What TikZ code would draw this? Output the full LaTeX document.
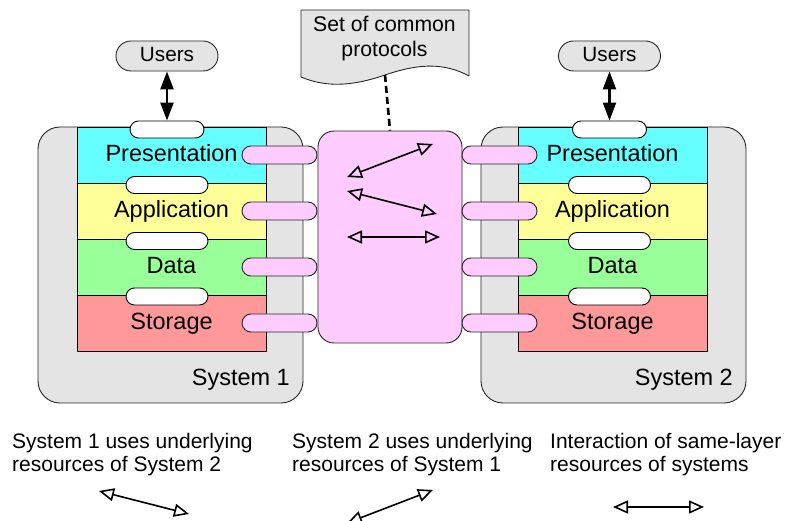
\documentclass[tikz,border=0pt]{standalone}
\usepackage{fontspec}
\setmainfont{Liberation Sans}
\usetikzlibrary{arrows.meta,shapes.misc}

\definecolor{sysgray}{HTML}{E4E4E4}
\definecolor{prescol}{HTML}{66FFFF}
\definecolor{appcol}{HTML}{FFFF99}
\definecolor{datacol}{HTML}{99FF99}
\definecolor{storcol}{HTML}{FF9999}
\definecolor{linkpink}{HTML}{FFCCFF}

\begin{document}
\begin{tikzpicture}[x=1pt,y=-1pt,line join=round,
  system/.style={draw=black!85,fill=sysgray,line width=0.9pt,rounded corners=22pt},
  layer/.style={draw=black,line width=0.9pt,minimum width=189pt,minimum height=56pt,
    inner sep=0pt,font=\fontsize{23.5}{28}\selectfont,text height=19pt,text depth=5pt},
  iface/.style={rounded rectangle,draw=black,fill=white,line width=0.9pt,
    minimum width=82pt,minimum height=17pt,inner sep=0pt},
  link/.style={rounded rectangle,draw=black!85,fill=linkpink,line width=0.9pt,
    minimum width=75pt,minimum height=18pt,inner sep=0pt},
  users/.style={rounded rectangle,draw=black!85,fill=sysgray,line width=0.9pt,
    minimum width=102pt,minimum height=30pt,inner sep=0pt,
    font=\fontsize{20.7}{24}\selectfont,text height=16pt,text depth=4pt},
  syslabel/.style={anchor=base east,inner sep=0pt,font=\fontsize{23.5}{28}\selectfont},
  doctext/.style={anchor=base,inner sep=0pt,font=\fontsize{21.2}{26}\selectfont},
  legend/.style={anchor=base west,inner sep=0pt,font=\fontsize{21}{22}\selectfont},
  userarrow/.style={line width=2.3pt,{Triangle[length=18pt,width=13pt]}-{Triangle[length=18pt,width=13pt]}},
  relarrow/.style={line width=1.6pt,{Triangle[open,length=15pt,width=13pt]}-{Triangle[open,length=15pt,width=13pt]}},
]
\useasboundingbox (0,0) rectangle (785,521);
\clip (0,0) rectangle (785,521);

% ---- System 1 ----
\draw[system] (38,127) rectangle (303,403);
\node[layer,fill=prescol] (p1) at (171.5,155) {Presentation};
\node[layer,fill=appcol]  (a1) at (171.5,211) {Application};
\node[layer,fill=datacol] (d1) at (171.5,267) {Data};
\node[layer,fill=storcol] (s1) at (171.5,323) {Storage};
\node[iface,minimum width=74pt] (ip1) at (167,129.5) {};
\node[iface] (ia1) at (167,185) {};
\node[iface] (id1) at (167,241) {};
\node[iface] (is1) at (167,296.5) {};
\node[syslabel] (sys1) at (290,385) {System 1};

% ---- System 2 ----
\draw[system] (481,127) rectangle (746,403);
\node[layer,fill=prescol] (p2) at (612.5,155) {Presentation};
\node[layer,fill=appcol]  (a2) at (612.5,211) {Application};
\node[layer,fill=datacol] (d2) at (612.5,267) {Data};
\node[layer,fill=storcol] (s2) at (612.5,323) {Storage};
\node[iface,minimum width=74pt] (ip2) at (609.5,129.5) {};
\node[iface] (ia2) at (609.5,185) {};
\node[iface] (id2) at (609.5,241) {};
\node[iface] (is2) at (609.5,296.5) {};
\node[syslabel] (sys2) at (733,385) {System 2};

% ---- common protocol hub and its layer links ----
\node[draw=black!85,fill=linkpink,line width=0.9pt,rounded corners=16pt,
  minimum width=144pt,minimum height=212pt,inner sep=0pt] (hub) at (390,237) {};
\foreach \y/\n in {155/p,211/a,267/d,323/s}{
  \node[link] (l1\n) at (279.5,\y) {};
  \node[link] (l2\n) at (499.5,\y) {};
}

% ---- users ----
\node[users] (u1) at (167,56) {Users};
\node[users] (u2) at (609.5,56) {Users};
\draw[userarrow] (u1.south) -- (ip1.north);
\draw[userarrow] (u2.south) -- (ip2.north);

% ---- protocol document ----
\draw[draw=black!85,fill=sysgray,line width=0.9pt]
  (301,10) -- (469,10) -- (469,76)
  .. controls (445,63) and (420,63) .. (385,75)
  .. controls (350,87) and (325,87) .. (301,77) -- cycle;
\coordinate (docbot) at (385,75);
\node[doctext] (doc1) at (384.5,32) {Set of common};
\node[doctext] (doc2) at (384.5,57) {protocols};
\draw[line width=2.6pt,dash pattern=on 7pt off 4pt] (docbot) -- (hub.north);

% ---- interactions inside the hub ----
\coordinate (h1a) at (347,177); \coordinate (h1b) at (433,144);
\coordinate (h2a) at (347,191); \coordinate (h2b) at (437,214);
\coordinate (h3a) at (347,237); \coordinate (h3b) at (440,237);
\draw[relarrow] (h1a) -- (h1b);
\draw[relarrow] (h2a) -- (h2b);
\draw[relarrow] (h3a) -- (h3b);

% ---- legend ----
\node[legend] (k1a) at (12,449) {System 1 uses underlying};
\node[legend] (k1b) at (12,471) {resources of System 2};
\node[legend] (k2a) at (292,449) {System 2 uses underlying};
\node[legend] (k2b) at (292,471) {resources of System 1};
\node[legend] (k3a) at (550,449) {Interaction of same-layer};
\node[legend] (k3b) at (550,471) {resources of systems};
\coordinate (g1a) at (99,491);  \coordinate (g1b) at (189,514);
\coordinate (g2a) at (347,523); \coordinate (g2b) at (433,490);
\coordinate (g3a) at (613,507); \coordinate (g3b) at (704,507);
\draw[relarrow] (g1a) -- (g1b);
\draw[relarrow] (g2a) -- (g2b);
\draw[relarrow] (g3a) -- (g3b);
\end{tikzpicture}
\end{document}
